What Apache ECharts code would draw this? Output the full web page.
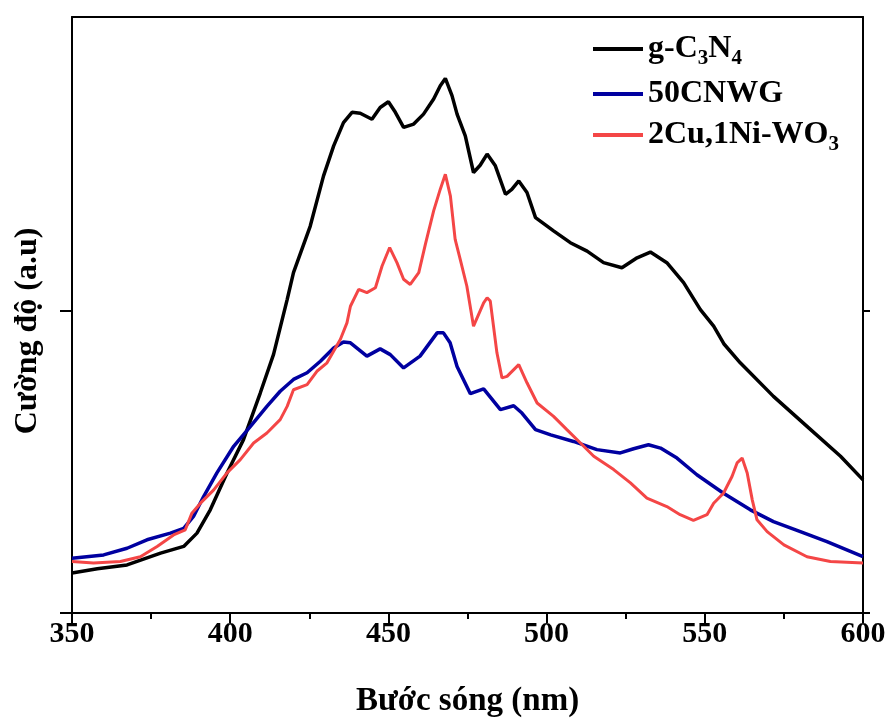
<!DOCTYPE html>
<html>
<head>
<meta charset="utf-8">
<script src="https://cdn.jsdelivr.net/npm/echarts@6/dist/echarts.min.js"></script>
<style>
  html, body { margin: 0; padding: 0; background: #fff; }
  #chart { width: 886px; height: 718px; }
</style>
</head>
<body>
<div id="chart"></div>
<script>
// Photoluminescence spectra: [wavelength (nm), intensity (a.u.)]
const gC3N4 = [
  [350, 0.132], [358, 0.146], [367.4, 0.159], [378, 0.198], [385.3, 0.22],
  [389.5, 0.264], [393.7, 0.341], [399, 0.463], [404.2, 0.573], [409.5, 0.727],
  [413.7, 0.855], [418, 1.036], [420, 1.125], [425.3, 1.279], [429.5, 1.445],
  [432.7, 1.544], [435.8, 1.621], [438.5, 1.655], [441.1, 1.652], [444.8, 1.632],
  [447.4, 1.671], [450, 1.69], [452.2, 1.655], [454.8, 1.605], [458, 1.616],
  [461.1, 1.649], [464.3, 1.699], [466.4, 1.743], [468, 1.767], [470.1, 1.71],
  [471.7, 1.649], [474.3, 1.577], [476.9, 1.456], [479, 1.48], [481.2, 1.517],
  [483.8, 1.478], [487, 1.384], [489, 1.40], [491.2, 1.428], [493.8, 1.39],
  [496.5, 1.307], [502.2, 1.263], [507.5, 1.224], [512.8, 1.196], [518, 1.158],
  [523.8, 1.141], [528.6, 1.174], [532.8, 1.193], [538, 1.158], [543.3, 1.092],
  [548.6, 1.003], [552.8, 0.948], [556, 0.89], [561.2, 0.827], [571.7, 0.716],
  [582.3, 0.617], [592.9, 0.518], [600, 0.44]
];

const cnwg50 = [
  [350, 0.181], [360, 0.192], [367.4, 0.214], [373.7, 0.242], [381.1, 0.264],
  [385.3, 0.28], [388.4, 0.319], [391.6, 0.385], [395.8, 0.463], [401.1, 0.551],
  [406.4, 0.617], [411.6, 0.683], [415.8, 0.733], [420, 0.772], [424.3, 0.794],
  [428.5, 0.832], [432.7, 0.876], [435.8, 0.896], [438, 0.893], [443.2, 0.849],
  [447.4, 0.873], [450.6, 0.854], [454.8, 0.81], [460, 0.849], [465.4, 0.926],
  [467.4, 0.926], [469.5, 0.893], [471.7, 0.815], [475.9, 0.725], [480.1, 0.741],
  [485.4, 0.672], [489.6, 0.685], [492.2, 0.661], [496.5, 0.606], [501.3, 0.589],
  [508.5, 0.567], [515.9, 0.54], [523.3, 0.529], [527.5, 0.543], [532.2, 0.556],
  [536, 0.545], [541.2, 0.512], [547.5, 0.457], [555.9, 0.396], [564.4, 0.341],
  [571.7, 0.302], [580.2, 0.269], [588.6, 0.236], [600, 0.186]
];

const cuNiWO3 = [
  [350, 0.17], [356.8, 0.165], [365.3, 0.17], [371.6, 0.186], [376.9, 0.22],
  [382.1, 0.258], [385.8, 0.275], [387.9, 0.33], [390.6, 0.363], [394.8, 0.407],
  [399, 0.463], [403.2, 0.507], [407.4, 0.562], [411.6, 0.595], [415.8, 0.639],
  [418, 0.683], [420, 0.738], [424.3, 0.755], [427.4, 0.799], [430.6, 0.827],
  [434.8, 0.904], [436.9, 0.959], [438, 1.014], [440.6, 1.07], [443.2, 1.059],
  [445.9, 1.075], [448, 1.147], [450.4, 1.208], [452.7, 1.158], [454.8, 1.103],
  [456.9, 1.086], [459.6, 1.125], [461.7, 1.219], [464.3, 1.329], [466.4, 1.401],
  [468, 1.45], [469.6, 1.378], [471.1, 1.235], [472.7, 1.169], [474.8, 1.08],
  [476.9, 0.948], [480.1, 1.025], [481.2, 1.042], [482.2, 1.031], [484.3, 0.86],
  [485.9, 0.777], [487.5, 0.782], [491.2, 0.821], [493.8, 0.761], [497, 0.694],
  [502.2, 0.65], [506.4, 0.606], [510.7, 0.562], [514.9, 0.518], [521.2, 0.474],
  [526.5, 0.43], [531.7, 0.38], [538, 0.352], [542.2, 0.325], [546.4, 0.306],
  [550.7, 0.325], [552.8, 0.363], [555.9, 0.396], [558.6, 0.451], [560.2, 0.496],
  [561.8, 0.512], [563.4, 0.463], [565, 0.374], [566.5, 0.308], [569.7, 0.269],
  [575, 0.225], [582.3, 0.186], [589.7, 0.17], [600, 0.165]
];

const seriesNames = ['g-C3N4', '50CNWG', '2Cu,1Ni-WO3'];
const seriesColors = ['#000000', '#0000a0', '#f44646'];
const xTitle = 'Bước sóng (nm)';
const yTitle = 'Cường độ (a.u)';
const yTickValues = [0, 1];

// legend labels with chemical subscripts
const legendRich = {
  'g-C3N4': '{n|g-C}{s|3}{n|N}{s|4}',
  '50CNWG': '{n|50CNWG}',
  '2Cu,1Ni-WO3': '{n|2Cu,1Ni-WO}{s|3}'
};

const FONT = "'Liberation Serif', 'Times New Roman', serif";
const axisLine = { show: true, onZero: false, lineStyle: { color: '#000', width: 2 } };

const chart = echarts.init(document.getElementById('chart'), null, { renderer: 'canvas' });

chart.setOption({
  animation: false,
  backgroundColor: '#fff',
  grid: { left: 72, right: 23, top: 17, bottom: 105, containLabel: false, outerBoundsMode: 'none' },
  legend: {
    data: seriesNames,
    orient: 'vertical',
    left: 588,
    top: 28,
    icon: 'rect',
    itemWidth: 50,
    itemHeight: 4,
    itemGap: 9,
    formatter: name => legendRich[name],
    textStyle: {
      rich: {
        n: { fontFamily: FONT, fontWeight: 'bold', fontSize: 32, color: '#000', lineHeight: 40, verticalAlign: 'middle' },
        s: { fontFamily: FONT, fontWeight: 'bold', fontSize: 21, color: '#000', lineHeight: 21, verticalAlign: 'bottom' }
      }
    }
  },
  xAxis: [
    {
      type: 'value',
      min: 350, max: 600, interval: 50,
      position: 'bottom',
      name: xTitle,
      nameLocation: 'middle',
      nameGap: 72,
      nameTextStyle: { fontFamily: FONT, fontWeight: 'bold', fontSize: 33, color: '#000' },
      axisLine: axisLine,
      axisTick: { show: true, length: 10, lineStyle: { color: '#000', width: 2 } },
      minorTick: { show: true, splitNumber: 2, length: 6, lineStyle: { color: '#000', width: 2 } },
      axisLabel: { fontFamily: FONT, fontWeight: 'bold', fontSize: 30, color: '#000', margin: 6 },
      splitLine: { show: false }
    },
    {
      type: 'value',
      min: 350, max: 600,
      position: 'top',
      axisLine: axisLine,
      axisTick: { show: false },
      axisLabel: { show: false },
      splitLine: { show: false }
    }
  ],
  yAxis: [
    {
      type: 'value',
      min: 0, max: 1.97, interval: 1,
      position: 'left',
      name: yTitle,
      nameLocation: 'middle',
      nameGap: 28,
      nameTextStyle: { fontFamily: FONT, fontWeight: 'bold', fontSize: 32, color: '#000', padding: [0, 32, 0, 0] },
      axisLine: axisLine,
      axisTick: { show: true, length: 12, customValues: yTickValues, lineStyle: { color: '#000', width: 2 } },
      axisLabel: { show: false },
      splitLine: { show: false }
    },
    {
      type: 'value',
      min: 0, max: 1.97, interval: 1,
      position: 'right',
      axisLine: axisLine,
      axisTick: { show: true, length: 7, customValues: yTickValues, lineStyle: { color: '#000', width: 2 } },
      axisLabel: { show: false },
      splitLine: { show: false }
    }
  ],
  series: [
    {
      name: seriesNames[0], type: 'line', data: gC3N4,
      showSymbol: false, symbol: 'none',
      lineStyle: { color: seriesColors[0], width: 3.5 },
      itemStyle: { color: seriesColors[0] }
    },
    {
      name: seriesNames[1], type: 'line', data: cnwg50,
      showSymbol: false, symbol: 'none',
      lineStyle: { color: seriesColors[1], width: 3.5 },
      itemStyle: { color: seriesColors[1] }
    },
    {
      name: seriesNames[2], type: 'line', data: cuNiWO3,
      showSymbol: false, symbol: 'none',
      lineStyle: { color: seriesColors[2], width: 3 },
      itemStyle: { color: seriesColors[2] }
    }
  ]
});
</script>
</body>
</html>
